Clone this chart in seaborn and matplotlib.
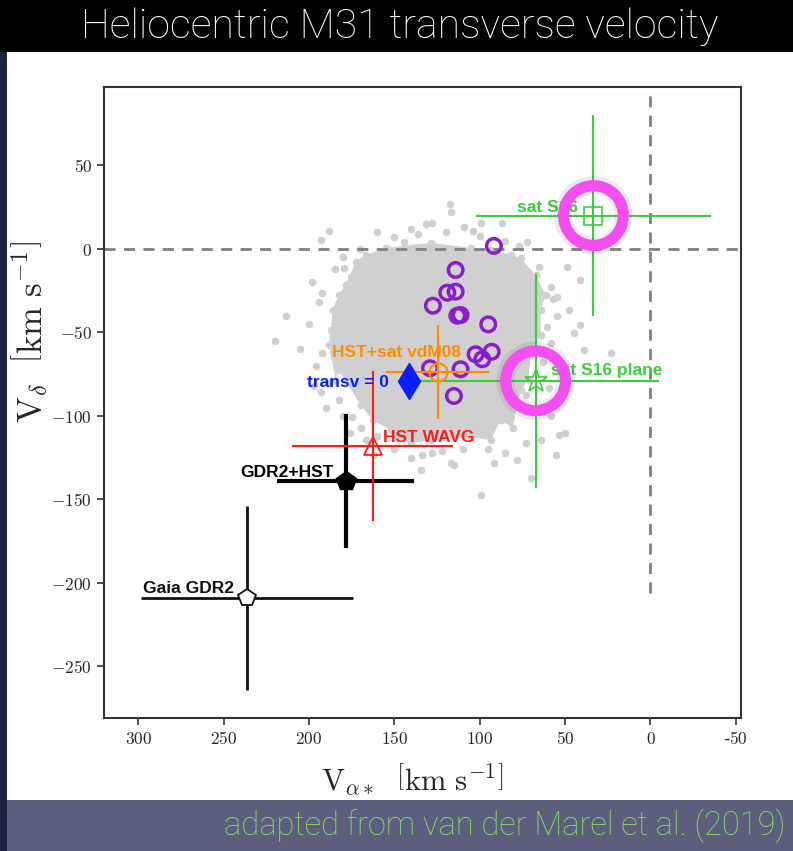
import numpy as np
import pandas as pd
import seaborn as sns
import matplotlib.pyplot as plt
from matplotlib.patches import Rectangle
from matplotlib.ticker import FixedLocator, FixedFormatter

# === data (km/s) ===
# dense core of the Monte Carlo cloud (outline)
core_va = [172.6, 166.8, 155.1, 128.7, 105.3, 93.6, 81.9, 76.1, 67.3, 61.4, 64.4, 64.4, 70.2,
           71.4, 76.1, 80.7, 87.8, 93.6, 105.3, 128.7, 140.4, 149.2, 152.1, 162.7, 169.7,
           182.6, 184.3, 188.4, 187.2, 186.1, 182.6, 178.5]
core_vd = [-7.8, -3.6, 0.6, 3.6, 0.6, -0.6, -3.6, -5.4, -15.6, -27.6, -36.6, -51.6, -60.6,
           -78.5, -84.5, -107.3, -102.5, -114.5, -112.7, -114.5, -116.3, -113.3, -108.5,
           -102.5, -93.5, -72.5, -78.5, -57.6, -48.6, -36.6, -27.6, -21.6]
# loose cloud points outside the core
cloud_va = [117.6, 117.0, 127.7, 131.7, 188.2, 193.1, 150.2, 144.4, 179.5, 175.5, 192.1, 194.1,
            213.6, 220.0, 192.1, 193.1, 182.4, 174.5, 169.7, 133.6, 127.7, 134.6, 117.0, 188.4,
            109.2, 99.5, 86.8, 72.1, 65.4, 48.7, 58.5, 41.0, 54.6, 47.8, 41.0, 44.9, 23.4, 39.0,
            60.4, 58.5, 53.7, 55.6, 64.4, 70.2, 99.5, 91.7, 115.1, 78.0, 73.1, 60.4, 54.6,
            59.7, 73.1, 166.8, 162.0,
            198.0, 200.0, 205.0, 196.0, 190.0, 180.0, 176.0, 160.0, 140.0, 120.0, 100.0, 85.0,
            170.0, 180.0, 55.0, 50.0, 58.0, 50.0, 150.0, 140.0, 110.0, 95.0, 85.0, 160.0,
            136.0, 104.0, 77.0, 197.0, 185.0, 63.0, 57.0, 122.0]
cloud_vd = [27.0, 22.4, 15.4, 14.8, 10.8, 5.4, 7.4, 4.4, -11.6, -16.6, -26.2, -31.6,
            -40.0, -55.2, -62.5, -85.6, -90.5, -100.5, -107.5, -123.5, -122.5, -132.5, -128.5, -80.5,
            13.4, 15.4, 15.4, 4.4, -10.6, -10.6, -22.6, -18.6, -28.6, -36.6, -45.6, -50.5, -62.1, -60.6,
            -46.6, -56.5, -111.5, -123.5, -114.5, -137.5, -147.5, -128.5, -129.5, -126.5, -116.5, -96.5, -92.5,
            -83.3, -87.5, -114.5, -123.5,
            -20.0, -45.0, -60.0, -70.0, -95.0, -100.0, -110.0, 10.0, 12.0, 10.0, 8.0, 5.0,
            0.0, -5.0, -40.0, -70.0, -100.0, -110.0, -120.0, -125.0, -120.0, -120.0, -122.0, -112.0,
            9.0, 11.0, 2.0, -82.0, -12.0, -68.0, -30.0, -121.0]

# individual satellites (purple open circles)
sat_va = [91.7, 114.1, 119.0, 114.1, 127.4, 113.1, 111.2, 95.0, 102.4, 98.5, 93.0, 129.1, 111.2, 115.1]
sat_vd = [1.8, -12.6, -26.2, -25.6, -34.0, -40.0, -39.6, -45.2, -63.1, -66.1, -61.6, -71.5, -72.1, -88.1]

# measurements: name, va, vd, err_va, err_vd
names = ["Gaia GDR2", "GDR2+HST", "HST WAVG", "HST+sat vdM08", "sat S16 plane", "sat S16"]
meas_va = [236.4, 178.5, 162.7, 124.6, 67.3, 33.4]
meas_vd = [-209.0, -139.0, -118.0, -73.7, -79.0, 20.0]
err_va = [62.0, 40.0, 47.0, 30.0, 72.0, 69.0]
err_vd = [55.0, 40.0, 45.0, 28.0, 64.0, 60.0]

transv0_va, transv0_vd = 141.6, -79.0

# label anchor positions (data units)
label_va = [244.0, 185.5, 156.8, 186.7, 58.5, 78.4]
label_vd = [-206.0, -136.5, -115.7, -64.7, -75.5, 22.2]

xticks = [300, 250, 200, 150, 100, 50, 0, -50]
yticks = [50, 0, -50, -100, -150, -200, -250]

# === style ===
sns.set_style("ticks")
plt.rcParams["font.family"] = ["DejaVu Sans"]
plt.rcParams["mathtext.fontset"] = "cm"

fig = plt.figure(figsize=(7.93, 8.51), dpi=100, facecolor="black")
# backdrop panels (slide look)
fig.patches.append(Rectangle((7 / 793, 51 / 851), 786 / 793, 748 / 851, transform=fig.transFigure,
                             facecolor="white", edgecolor="none", zorder=-10))
fig.patches.append(Rectangle((7 / 793, 0), 786 / 793, 51 / 851, transform=fig.transFigure,
                             facecolor="#5b5f7d", edgecolor="none", zorder=-10))
fig.patches.append(Rectangle((0, 0), 7 / 793, 799 / 851, transform=fig.transFigure,
                             facecolor="#1c2240", edgecolor="none", zorder=-10))

ax = fig.add_axes([104 / 793, 133 / 851, 637 / 793, 631 / 851])
ax.set_facecolor("white")

# cloud
ax.fill(core_va, core_vd, color="#d0d0d0", lw=0, zorder=1)
sns.scatterplot(x=core_va, y=core_vd, ax=ax, color="#d0d0d0", s=30, linewidth=0, zorder=1)
sns.scatterplot(x=cloud_va, y=cloud_vd, ax=ax, color="#d0d0d0", s=30, linewidth=0, zorder=1)

# reference lines
ax.axhline(0, color="#808080", ls=(0, (4, 3)), lw=2, zorder=2)
ax.vlines(0, -206, 97, color="#808080", linestyles=(0, (4, 3)), lw=2, zorder=2)

# satellites
sns.scatterplot(x=sat_va, y=sat_vd, ax=ax, marker="o", s=110, facecolor="none",
                edgecolor="#8a1ccc", linewidth=2.5, zorder=3)

# measurements with error bars
styles = [
    dict(color="#111111", marker="p", mfc="white", ms=13, lw=2.0, mew=1.3),
    dict(color="#000000", marker="p", mfc="#000000", ms=15, lw=3.0, mew=1.0),
    dict(color="#ff1a1a", marker="^", mfc="none", ms=13, lw=1.5, mew=1.3),
    dict(color="#ff8c00", marker="o", mfc="none", ms=13, lw=1.5, mew=1.5),
    dict(color="#3dcc3d", marker="*", mfc="none", ms=17, lw=1.5, mew=1.2),
    dict(color="#3dcc3d", marker="s", mfc="none", ms=13, lw=1.5, mew=1.2),
]
label_colors = ["#111111", "#000000", "#ff1a1a", "#ff8c00", "#3dcc3d", "#3dcc3d"]
label_ha = ["right", "right", "left", "left", "left", "left"]
for i in range(len(names)):
    st = styles[i]
    ax.errorbar(meas_va[i], meas_vd[i], xerr=err_va[i], yerr=err_vd[i], fmt=st["marker"],
                color=st["color"], mfc=st["mfc"], mec=st["color"], ms=st["ms"], mew=st["mew"],
                elinewidth=st["lw"], capsize=0, zorder=4)
    ax.text(label_va[i], label_vd[i], names[i], color=label_colors[i], ha=label_ha[i], va="baseline",
            fontsize=12.5, fontweight="bold", family="Liberation Sans", zorder=6)

ax.plot(transv0_va, transv0_vd, marker="d", color="#0a1eff", ms=18, zorder=5)
ax.text(201.3, -82.7, "transv = 0", color="#0a1eff", ha="left", va="baseline",
        fontsize=12.5, fontweight="bold", family="Liberation Sans", zorder=6)

# magenta highlight rings around the S16 points
ring_va = meas_va[4:]
ring_vd = meas_vd[4:]
ax.scatter(ring_va, ring_vd, s=1900, facecolor="none", edgecolor="#444444", linewidth=13, alpha=0.1, zorder=6)
ax.scatter(ring_va, ring_vd, s=1850, facecolor="none", edgecolor="#f54ef0", linewidth=8, zorder=7)

# axes
ax.set_xlim(320, -53)
ax.set_ylim(-281, 97)
ax.xaxis.set_major_locator(FixedLocator(xticks))
ax.xaxis.set_major_formatter(FixedFormatter(["$%d$" % t if t >= 0 else "-$%d$" % abs(t) for t in xticks]))
ax.yaxis.set_major_locator(FixedLocator(yticks))
ax.yaxis.set_major_formatter(FixedFormatter(["$%d$" % t for t in yticks]))
ax.tick_params(axis="both", direction="out", length=5, width=1.2, labelsize=12.5, color="#333333")
for sp in ax.spines.values():
    sp.set_color("#333333")
    sp.set_linewidth(1.5)

ax.set_xlabel(r"$\mathrm{V}_{\alpha*}\ \ \left[\mathrm{km\ s^{-1}}\right]$", fontsize=22)
ax.set_ylabel(r"$\mathrm{V}_{\delta}\ \ \left[\mathrm{km\ s^{-1}}\right]$", fontsize=25)
ax.xaxis.set_label_coords(0.484, -0.068)
ax.yaxis.set_label_coords(-0.085, 0.612)

fig.text(400 / 793, 1 - 27 / 851, "Heliocentric M31 transverse velocity", color="white",
         ha="center", va="center", fontsize=29.5, family="Roboto", fontweight="light")
fig.text(785 / 793, 1 - 826 / 851, "adapted from van der Marel et al. (2019)", color="#90e060",
         ha="right", va="center", fontsize=23.5, family="Roboto", fontweight="light")

fig.savefig("out.png", dpi=100, facecolor="black")
